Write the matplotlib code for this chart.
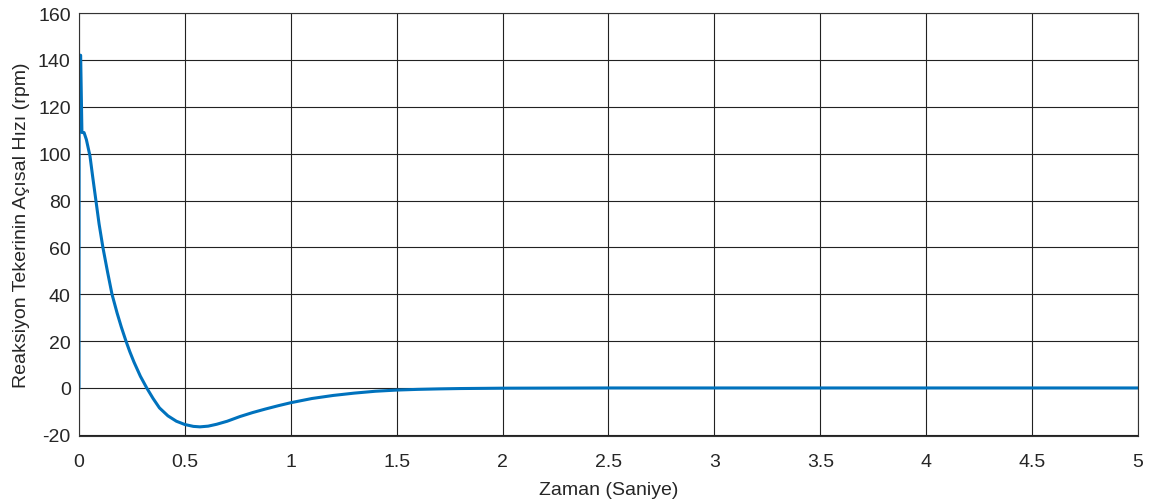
import numpy as np
from matplotlib import pyplot as plt

plt.rcParams['font.family'] = ['Liberation Sans', 'DejaVu Sans']
plt.rcParams['axes.unicode_minus'] = False

# zaman (s) ve hiz (rpm)
t = [0, 0.001, 0.008, 0.014, 0.024, 0.035, 0.052, 0.065, 0.08, 0.095, 0.113, 0.135,
     0.156, 0.18, 0.2, 0.222, 0.24, 0.26, 0.29, 0.32, 0.35, 0.38, 0.42, 0.46, 0.5, 0.54,
     0.571, 0.61, 0.65, 0.7, 0.76, 0.82, 0.88, 0.94, 1.0, 1.1, 1.2, 1.3, 1.4,
     1.5, 1.6, 1.7, 1.8, 2.0, 2.5, 3.0, 5.0]
w = [0, 142, 142, 109, 109, 106, 99, 90, 80, 70, 60, 49.5,
     40, 32, 26, 20, 15.5, 11, 5, 0, -4.5, -8.5, -11.9, -14.2, -15.6, -16.4,
     -16.6, -16.3, -15.5, -14.2, -12.2, -10.5, -9, -7.6, -6.3, -4.5, -3.2, -2.2, -1.4,
     -0.9, -0.6, -0.4, -0.25, -0.1, 0, 0, 0]

xticks = [0, 0.5, 1, 1.5, 2, 2.5, 3, 3.5, 4, 4.5, 5]
xlabels = ['0', '0.5', '1', '1.5', '2', '2.5', '3', '3.5', '4', '4.5', '5']
yticks = [-20, 0, 20, 40, 60, 80, 100, 120, 140, 160]

fig = plt.figure(figsize=(11.51, 5.02), dpi=100)
ax = fig.add_axes([0.0686, 0.1295, 0.9201, 0.8425])
ax.plot(t, w, color='#0072BD', lw=2.2)
ax.set_xlim(0, 5)
ax.set_ylim(-20.5, 160)
ax.set_xticks(xticks)
ax.set_xticklabels(xlabels)
ax.set_yticks(yticks)
ax.grid(True, color='#222222', lw=0.8)
ax.tick_params(length=0, labelsize=14, colors='#262626', pad=6)
ax.tick_params(axis='x', pad=12)
for s in ax.spines.values():
    s.set_color('#333333')
ax.set_xlabel('Zaman (Saniye)', fontsize=14, color='#262626', labelpad=8)
ax.set_ylabel('Reaksiyon Tekerinin Açısal Hızı (rpm)', fontsize=14, color='#262626', labelpad=6)
fig.savefig('out.png')
